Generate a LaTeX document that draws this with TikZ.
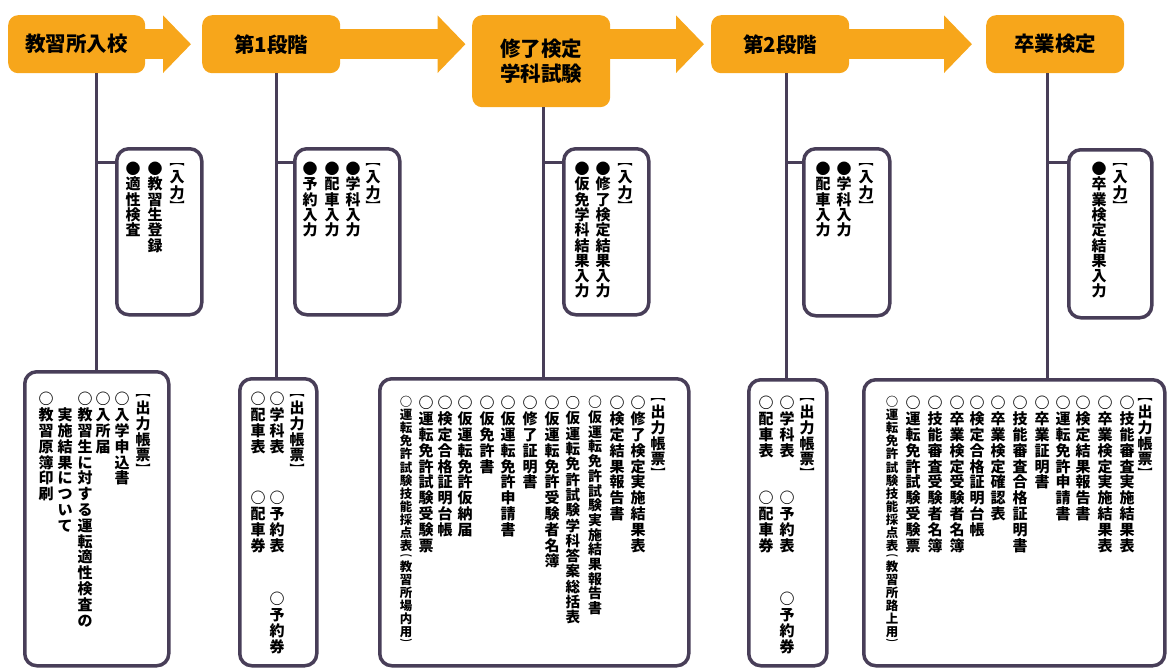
\documentclass[tikz,border=0pt]{standalone}
\usepackage{fontspec}
\usepackage{graphicx}
\usetikzlibrary{arrows.meta}
\newfontfamily\jp{Noto Sans CJK JP}
\definecolor{orng}{RGB}{247,166,27}
\definecolor{ink}{RGB}{72,62,88}
\newdimen\vcP
\newdimen\vcE
\newdimen\vcpitch
\vcpitch=15.5pt
\ExplSyntaxOn
\cs_new_protected:Npn \vc_full:n #1
  {
    \hbox_to_wd:nn {1em}
      {
        \hss
        \raisebox{\dimexpr(\vcP-\vcE)/2+\vcE*12/100\relax}[\vcP][0pt]{#1}
        \hss
      }
  }
\cs_new_protected:Npn \vc_half:n #1
  {
    \hbox_set:Nn \l_tmpa_box { \scalebox{1}[0.6]{#1} }
    \dim_set:Nn \l_tmpa_dim
      { (\vcP*55/100 - \box_ht:N \l_tmpa_box - \box_dp:N \l_tmpa_box)/2 + \box_dp:N \l_tmpa_box }
    \hbox_to_wd:nn {1em}
      { \hss \raisebox{\l_tmpa_dim}[\dimexpr\vcP*55/100\relax][0pt]{\box_use:N \l_tmpa_box} \hss }
  }
\NewDocumentCommand \vcol { O{1} m }
  {
    \group_begin:
    \fontsize{\fp_eval:n{15*#1}}{16}\selectfont
    \vcP=#1\vcpitch
    \vcE=1em
    \vbox_top:n
      {
        \offinterlineskip
        \tl_map_inline:nn {#2}
          {
            \str_case:nnF {##1}
              {
                {【}{\vc_half:n{︻}}
                {（}{\vc_half:n{︵}}
                {】}{\vc_half:n{︼}}
                {）}{\vc_half:n{︶}}
              }
              {\vc_full:n{##1}}
          }
      }
    \group_end:
  }
\ExplSyntaxOff
\newcommand\vcn[5]{\node[vc] (#1) at (#2,#3) {\vcol[#4]{#5}};}
\begin{document}
\begin{tikzpicture}[x=1pt,y=-1pt,
  hbox/.style={fill=orng, rounded corners=10pt, anchor=north west, inner sep=0pt,
    minimum width=138pt, minimum height=58pt, align=center,
    font=\jp\bfseries\fontsize{20.5}{25}\selectfont},
  arr/.style={draw=orng, line width=30pt, -{Triangle[length=28pt,width=56pt]}},
  conn/.style={draw=ink, line width=3pt},
  wbox/.style={draw=ink, line width=3.5pt, fill=white, rounded corners=12pt,
    anchor=north west, inner sep=0pt},
  vc/.style={anchor=north, inner sep=0pt, font=\jp\bfseries\fontsize{15}{16}\selectfont}]
\useasboundingbox (0,0) rectangle (1168,669);

% header boxes
\node[hbox, minimum width=137pt] (b1) at (8,15) {教習所入校};
\node[hbox] (b2) at (202,15) {第1段階};
\node[hbox, minimum height=92pt] (b3) at (472,15) {修了検定\\学科試験};
\node[hbox] (b4) at (711,15) {第2段階};
\node[hbox] (b5) at (986,15) {卒業検定};

% arrows
\draw[arr, shorten >=11pt] (b1.east) -- (b2.west);
\draw[arr, shorten >=6.5pt] (b2.east) -- (b3.west |- b2.east);
\draw[arr, shorten >=7pt] (b3.east |- b4.west) -- (b4.west);
\draw[arr, shorten >=14pt] (b4.east) -- (b5.west);

% line positions
\coordinate (l1) at (96,0);
\coordinate (l2) at (276,0);
\coordinate (l3) at (543,0);
\coordinate (l4) at (786,0);
\coordinate (l5) at (1047,0);
\coordinate (j1) at (96,162);
\coordinate (j2) at (276,162);
\coordinate (j3) at (543,162);
\coordinate (j4) at (786,162);
\coordinate (j5) at (1047,162);

% input boxes
\node[wbox, minimum width=85pt, minimum height=166pt] (i1) at (115,147) {};
\node[wbox, minimum width=105pt, minimum height=166pt] (i2) at (293,147) {};
\node[wbox, minimum width=85pt, minimum height=166pt] (i3) at (562,147) {};
\node[wbox, minimum width=86pt, minimum height=167pt] (i4) at (802,147) {};
\node[wbox, minimum width=83pt, minimum height=168pt] (i5) at (1067,148) {};

% output boxes
\node[wbox, minimum width=144pt, minimum height=294pt] (o1) at (23,370) {};
\node[wbox, minimum width=77pt, minimum height=287pt] (o2) at (238,377) {};
\node[wbox, minimum width=309pt, minimum height=287pt] (o3) at (378,377) {};
\node[wbox, minimum width=78pt, minimum height=286pt] (o4) at (747,378) {};
\node[wbox, minimum width=301pt, minimum height=286pt] (o5) at (862,378) {};

% connectors
\draw[conn] (b1.south -| l1) -- (o1.north -| l1);
\draw[conn] (b2.south -| l2) -- (o2.north -| l2);
\draw[conn] (b3.south -| l3) -- (o3.north -| l3);
\draw[conn] (b4.south -| l4) -- (o4.north -| l4);
\draw[conn] (b5.south -| l5) -- (o5.north -| l5);
\draw[conn] (j1) -- (j1 -| i1.west);
\draw[conn] (j2) -- (j2 -| i2.west);
\draw[conn] (j3) -- (j3 -| i3.west);
\draw[conn] (j4) -- (j4 -| i4.west);
\draw[conn] (j5) -- (j5 -| i5.west);

% input texts
\vcpitch=15.3pt
\vcn{i1a}{177}{161}{1}{【入力】}
\vcn{i1b}{155}{161}{1}{●教習生登録}
\vcn{i1c}{133}{161}{1}{●適性検査}
\vcn{i2a}{373}{161}{1}{【入力】}
\vcn{i2b}{353}{161}{1}{●学科入力}
\vcn{i2c}{332}{161}{1}{●配車入力}
\vcn{i2d}{310}{161}{1}{●予約入力}
\vcn{i3a}{625}{161}{1}{【入力】}
\vcn{i3b}{603}{161}{1}{●修了検定結果入力}
\vcn{i3c}{582}{161}{1}{●仮免学科結果入力}
\vcn{i4a}{866}{161}{1}{【入力】}
\vcn{i4b}{844}{161}{1}{●学科入力}
\vcn{i4c}{823}{161}{1}{●配車入力}
\vcn{i5a}{1120}{161}{1}{【入力】}
\vcn{i5b}{1099}{161}{1}{●卒業検定結果入力}

% output texts
\vcpitch=15.8pt
\vcn{o1a}{143}{391}{1}{【出力帳票】}
\vcn{o1b}{122}{391}{1}{○入学申込書}
\vcn{o1c}{103}{391}{1}{○入所届}
\vcn{o1d}{85}{391}{1}{○教習生に対する運転適性検査の}
\vcn{o1e}{65}{406.8}{1}{実施結果について}
\vcn{o1f}{46}{391}{1}{○教習原簿印刷}

\vcn{o2a}{297}{391}{1}{【出力帳票】}
\vcn{o2b}{277}{391}{1}{○学科表}
\vcn{o2c}{258}{391}{1}{○配車表}
\vcn{o2d}{277}{490}{1}{○予約表}
\vcn{o2e}{258}{490}{1}{○配車券}
\vcn{o2f}{277}{591}{1}{○予約券}

\vcn{o3a}{658}{395}{1}{【出力帳票】}
\vcn{o3b}{638}{395}{1}{○修了検定実施結果表}
\vcn{o3c}{617}{395}{1}{○検定結果報告書}
\vcn{o3d}{595}{395}{0.93}{○仮運転免許試験実施結果報告書}
\vcn{o3e}{573}{395}{0.97}{○仮運転免許試験学科答案総括表}
\vcn{o3f}{552}{395}{1}{○仮運転免許受験者名簿}
\vcn{o3g}{530}{395}{1}{○修了証明書}
\vcn{o3h}{508}{395}{1}{○仮運転免許申請書}
\vcn{o3i}{487}{395}{1}{○仮免許書}
\vcn{o3j}{465}{395}{1}{○仮運転免許仮納届}
\vcn{o3k}{445}{395}{1}{○検定合格証明台帳}
\vcn{o3l}{426}{395}{1}{○運転免許試験受験票}
\vcn{o3m}{406}{395}{0.83}{○運転免許試験技能採点表（教習所場内用）}

\vcn{o4a}{807}{395}{1}{【出力帳票】}
\vcn{o4b}{787}{395}{1}{○学科表}
\vcn{o4c}{766}{395}{1}{○配車表}
\vcn{o4d}{787}{490}{1}{○予約表}
\vcn{o4e}{766}{490}{1}{○配車券}
\vcn{o4f}{787}{591}{1}{○予約券}

\vcn{o5a}{1145}{395}{1}{【出力帳票】}
\vcn{o5b}{1127}{395}{1}{○技能審査実施結果表}
\vcn{o5c}{1105}{395}{1}{○卒業検定実施結果表}
\vcn{o5d}{1083}{395}{1}{○検定結果報告書}
\vcn{o5e}{1063}{395}{1}{○運転免許申請書}
\vcn{o5f}{1042}{395}{1}{○卒業証明書}
\vcn{o5g}{1020}{395}{1}{○技能審査合格証明書}
\vcn{o5h}{998}{395}{1}{○卒業検定確認表}
\vcn{o5i}{977}{395}{1}{○検定合格証明台帳}
\vcn{o5j}{957}{395}{1}{○卒業検定受験者名簿}
\vcn{o5k}{935}{395}{1}{○技能審査受験者名簿}
\vcn{o5l}{913}{395}{1}{○運転免許試験受験票}
\vcn{o5m}{892}{395}{0.83}{○運転免許試験技能採点表（教習所路上用）}
\end{tikzpicture}
\end{document}
